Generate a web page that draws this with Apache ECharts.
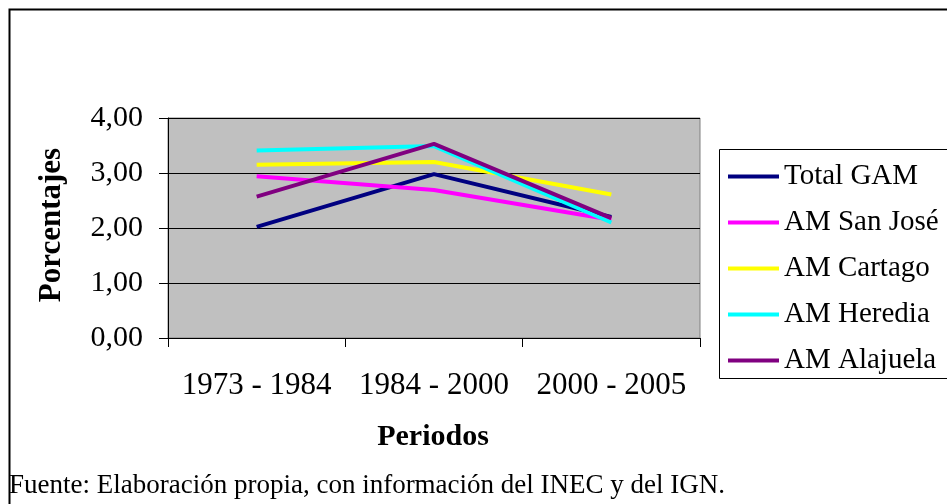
<!DOCTYPE html>
<html>
<head>
<meta charset="utf-8">
<script src="https://cdn.jsdelivr.net/npm/echarts@6/dist/echarts.min.js"></script>
<style>
html,body{margin:0;padding:0;background:#fff;}
#chart{width:947px;height:504px;}
</style>
</head>
<body>
<div id="chart"></div>
<script>
var categories = ['1973 - 1984', '1984 - 2000', '2000 - 2005'];
var totalGAM = [2.02, 2.98, 2.20];
var amSanJose = [2.94, 2.69, 2.15];
var amCartago = [3.15, 3.20, 2.61];
var amHeredia = [3.41, 3.49, 2.10];
var amAlajuela = [2.57, 3.53, 2.18];
var seriesNames = ['Total GAM', 'AM San José', 'AM Cartago', 'AM Heredia', 'AM Alajuela'];
var seriesColors = ['#000080', '#FF00FF', '#FFFF00', '#00FFFF', '#800080'];
var seriesData = [totalGAM, amSanJose, amCartago, amHeredia, amAlajuela];

var FONT = '"Liberation Serif", "Times New Roman", serif';
var chart = echarts.init(document.getElementById('chart'));

var series = seriesNames.map(function (n, i) {
  return {
    name: n,
    type: 'line',
    data: seriesData[i],
    symbol: 'none',
    showSymbol: false,
    lineStyle: { color: seriesColors[i], width: 4 },
    itemStyle: { color: seriesColors[i] },
    animation: false
  };
});

chart.setOption({
  animation: false,
  backgroundColor: '#ffffff',
  grid: {
    left: 168, right: 247, top: 118, bottom: 166,
    show: true, backgroundColor: '#C0C0C0', borderColor: '#808080', borderWidth: 1
  },
  xAxis: {
    type: 'category',
    data: categories,
    boundaryGap: true,
    axisLine: { lineStyle: { color: '#000', width: 1 } },
    axisTick: { show: true, length: 9, lineStyle: { color: '#000' } },
    axisLabel: { color: '#000', fontFamily: FONT, fontSize: 31, margin: 32, interval: 0, hideOverlap: false },
    splitLine: { show: false }
  },
  yAxis: {
    type: 'value',
    min: 0, max: 4, interval: 1,
    axisLine: { show: true, lineStyle: { color: '#000', width: 1 } },
    axisTick: { show: true, length: 9, lineStyle: { color: '#000' } },
    axisLabel: {
      color: '#000', fontFamily: FONT, fontSize: 30, margin: 25,
      formatter: function (v) { return v.toFixed(2).replace('.', ','); }
    },
    splitLine: { show: true, lineStyle: { color: '#000', width: 1 } }
  },
  legend: {
    orient: 'vertical',
    left: 728, top: 162,
    icon: 'rect',
    itemWidth: 51, itemHeight: 4, itemGap: 17,
    padding: 0,
    textStyle: { color: '#000', fontFamily: FONT, fontSize: 29, lineHeight: 29 },
    data: seriesNames
  },
  graphic: [
    { type: 'rect', silent: true, z: -1,
      shape: { x: 9.5, y: 9.5, width: 960, height: 520 },
      style: { fill: 'none', stroke: '#000', lineWidth: 2 } },
    { type: 'rect', silent: true,
      shape: { x: 719.5, y: 149.5, width: 260, height: 229 },
      style: { fill: '#fff', stroke: '#000', lineWidth: 1 }, z: 0 },
    { type: 'text', silent: true,
      x: 52, y: 225, rotation: Math.PI / 2,
      style: { text: 'Porcentajes', fill: '#000', font: 'bold 31px ' + FONT,
        textAlign: 'center', textVerticalAlign: 'middle' } },
    { type: 'text', silent: true,
      x: 433, y: 437,
      style: { text: 'Periodos', fill: '#000', font: 'bold 30px ' + FONT,
        textAlign: 'center', textVerticalAlign: 'middle' } },
    { type: 'text', silent: true,
      x: 9, y: 486,
      style: { text: 'Fuente: Elaboración propia, con información del INEC y del IGN.', fill: '#000',
        font: '27px ' + FONT, textAlign: 'left', textVerticalAlign: 'middle' } }
  ],
  series: series
});
</script>
</body>
</html>
